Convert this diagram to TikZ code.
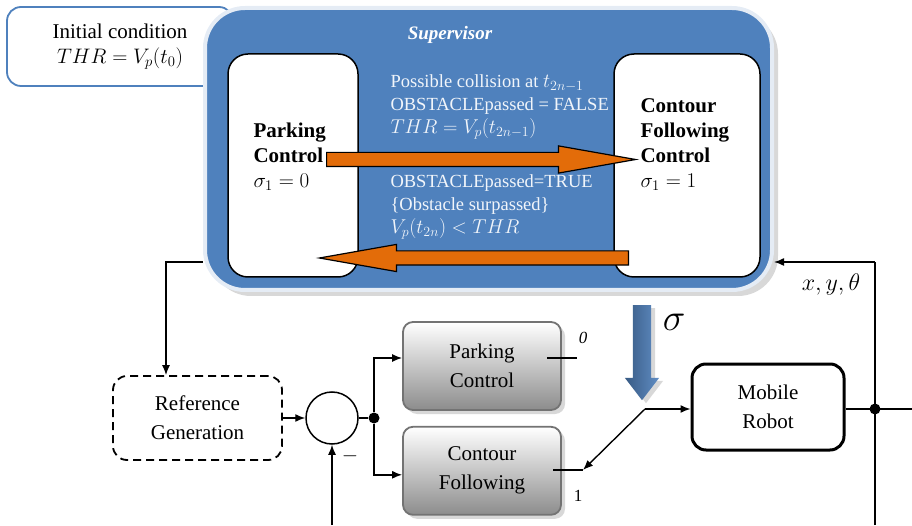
\RequirePackage{fix-cm}
\documentclass[tikz,border=0pt]{standalone}
\usepackage{amsmath}
\usepackage{fontspec}
\setmainfont{Liberation Serif}
\usetikzlibrary{shapes,arrows.meta,positioning,shadows}
\definecolor{supblue}{HTML}{4F81BD}
\definecolor{sworange}{HTML}{E36C09}

\begin{document}
\begin{tikzpicture}[x=1pt,y=1pt,
    every node/.style={font=\fontsize{21}{25}\selectfont},
    statebox/.style={rectangle,draw,fill=white,rounded corners=20pt,line width=1.5pt,minimum height=223pt,inner sep=0pt},
    ctrl/.style={rectangle,draw=black!55,rounded corners=10pt,line width=1.8pt,top color=white,bottom color=black!45,minimum width=158pt,minimum height=88pt,align=center,font=\fontsize{21}{29}\selectfont,drop shadow={shadow xshift=4pt,shadow yshift=-4pt,fill=black!30}},
    guard/.style={text=white!92!supblue,align=left,anchor=west,font=\fontsize{18.5}{23}\selectfont},
    swarrow/.style={single arrow,draw,fill=sworange,line width=1.2pt,inner sep=6.5pt,single arrow head extend=6.5pt,single arrow tip angle=20,minimum height=309pt,anchor=tail},
    wire/.style={line width=1.4pt},
    arrow/.style={line width=1.4pt,-{Latex[length=10pt,width=8pt]}}]
    \useasboundingbox (0,0) rectangle (912,525);
    \node[draw=supblue,line width=1.8pt,rounded corners=14pt,minimum width=226pt,minimum height=79pt,align=center] (init) at (120,478.5) {Initial condition\\$THR=V_p(t_0)$};
    \node[rectangle,fill=supblue,draw=white!85!supblue,line width=4pt,rounded corners=40pt,minimum width=567pt,minimum height=282pt,drop shadow={shadow xshift=6pt,shadow yshift=-6pt,fill=black!30}] (super) at (488.5,376) {};
    \node[text=white,font=\fontsize{19}{23}\selectfont\bfseries\itshape] (suptitle) at (450,490) {Supervisor};
    \node[statebox,minimum width=130pt] (park) at (293,359.5) {};
    \node[statebox,minimum width=146pt] (cont) at (687,359.5) {};
    \node[anchor=west,align=left] (parktxt) at (250,368.5) {\textbf{Parking}\\\textbf{Control}\\$\sigma_1=0$};
    \node[anchor=west,align=left] (conttxt) at (637,380.5) {\textbf{Contour}\\\textbf{Following}\\\textbf{Control}\\$\sigma_1=1$};
    \node[guard] (toCont) at (387,418) {Possible collision at {\fontsize{20}{23}\selectfont$t_{2n-1}$}\\OBSTACLEpassed = FALSE\\{\fontsize{20}{23}\selectfont$THR=V_p(t_{2n-1})$}};
    \node[guard] (toPark) at (387,318) {OBSTACLEpassed=TRUE\\\{Obstacle surpassed\}\\{\fontsize{20}{23}\selectfont$V_p(t_{2n})<THR$}};
    \node[swarrow] (goCont) at (326,365.5) {};
    \node[swarrow,shape border rotate=180] (goPark) at (629,267) {};

    \node[draw,dash pattern=on 8pt off 5pt,line width=1.8pt,rounded corners=14pt,minimum width=169pt,minimum height=84pt,align=center,font=\fontsize{21}{29}\selectfont] (refgen) at (197.5,107) {Reference\\Generation};
    \node[circle,draw,line width=1.5pt,minimum size=52pt,inner sep=0pt] (sum) at (332,107) {};
    \node[circle,fill,inner sep=0pt,minimum size=11pt] (split) at (374,107) {};
    \node[ctrl] (parkctl) at (482,159) {Parking\\Control};
    \node[ctrl,below=15pt of parkctl] (contctl) {Contour\\Following};
    \node[draw,line width=3pt,rounded corners=14pt,minimum width=152pt,minimum height=86pt,align=center,font=\fontsize{21}{29}\selectfont] (robot) at (768,118) {Mobile\\Robot};
    \node[single arrow,shape border rotate=270,anchor=tail,inner sep=9pt,single arrow head extend=8pt,single arrow tip angle=75,minimum height=95pt,left color=supblue!70!black,right color=supblue!90!white,drop shadow={shadow xshift=4pt,shadow yshift=-3pt,fill=black!30}] (sigarrow) at (642,220) {};
    \node[font=\fontsize{38}{42}\selectfont] (siglbl) at (674,203) {$\sigma$};
    \node[font=\fontsize{17}{20}\selectfont] (lbl0) at (583,187) {\textit{0}};
    \node[font=\fontsize{17}{20}\selectfont] (lbl1) at (578,29) {1};
    \node (minus) at (350,69) {$-$};
    \node[font=\fontsize{24}{28}\selectfont] (xyt) at (831,240) {$x,y,\theta$};

    \coordinate (sv) at (166,263);
    \coordinate (swpt) at (645,116);
    \coordinate (pk0) at (577,167);
    \coordinate (pk0s) at (547,167);
    \coordinate (ct1) at (583,55);
    \coordinate (ct1s) at (553,55);
    \coordinate (fbtop) at (875,263);
    \coordinate (fbbot) at (875,0);
    \coordinate (sumbot) at (332,0);
    \coordinate (outend) at (912,116);

    \draw[arrow] (super.west|-sv) -- (sv) -- (sv|-refgen.north);
    \draw[arrow] (refgen) -- (sum);
    \draw[wire] (sum) -- (split);
    \draw[arrow] (split) |- ([yshift=8pt]parkctl.west);
    \draw[arrow] (split) |- ([yshift=-4pt]contctl.west);
    \draw[wire] (pk0s) -- (pk0);
    \draw[wire] (ct1s) -- (ct1);
    \draw[arrow] (swpt) -- (ct1);
    \draw[arrow] (swpt) -- (robot.west|-swpt);
    \draw[wire] (robot.east|-outend) -- (outend);
    \draw[wire] (fbbot) -- (fbtop);
    \draw[arrow] (fbtop) -- (super.east|-fbtop);
    \draw[arrow] (sumbot) -- (sum.south);
    \node[circle,fill,inner sep=0pt,minimum size=11pt] (meas) at (875,116) {};
\end{tikzpicture}
\end{document}
